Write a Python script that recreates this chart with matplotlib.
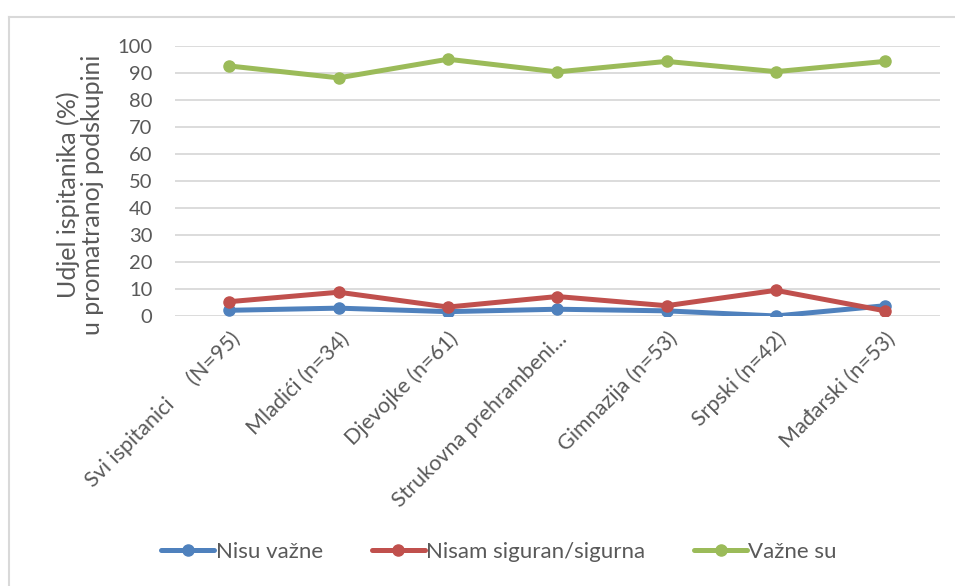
import matplotlib
matplotlib.use("Agg")
import matplotlib.pyplot as plt
from matplotlib.lines import Line2D

plt.rcParams["font.family"] = ["Lato", "DejaVu Sans"]

# =========================
# 数据
# =========================

categories = [
    "Svi ispitanici     (N=95)",
    "Mladići (n=34)",
    "Djevojke (n=61)",
    "Strukovna prehrambeni...",
    "Gimnazija (n=53)",
    "Srpski (n=42)",
    "Mađarski (n=53)",
]

nisu_vazne = [2.1, 2.9, 1.6, 2.5, 1.9, 0.0, 3.8]
nisam_siguran = [5.3, 8.8, 3.3, 7.2, 3.8, 9.5, 1.9]
vazne_su = [92.6, 88.2, 95.1, 90.4, 94.3, 90.5, 94.3]

series_names = ["Nisu važne", "Nisam siguran/sigurna", "Važne su"]
colors = ["#4F81BD", "#C0504D", "#9BBB59"]

text_color = "#595959"
grid_color = "#D9D9D9"

# =========================
# 绘图
# =========================

fig = plt.figure(figsize=(9.55, 5.86), dpi=100)
ax = fig.add_axes([0.183, 0.4608, 0.801, 0.4607])

x = range(len(categories))

for values, name, color in zip([nisu_vazne, nisam_siguran, vazne_su], series_names, colors):
    ax.plot(
        x,
        values,
        color=color,
        linewidth=3.6,
        marker="o",
        markersize=8,
        label=name,
        solid_capstyle="round",
        zorder=3
    )

ax.set_xlim(-0.5, len(categories) - 0.5)
ax.set_ylim(0, 100)
ax.set_yticks(range(0, 101, 10))

ax.grid(axis="y", color=grid_color, linewidth=1.3)
ax.set_axisbelow(True)

for spine in ax.spines.values():
    spine.set_visible(False)

ax.tick_params(axis="both", length=0, colors=text_color)
ax.tick_params(axis="y", labelsize=14.5, pad=16)

ax.set_xticks(list(x))
ax.set_xticklabels(
    categories,
    rotation=45,
    ha="right",
    va="top",
    rotation_mode="anchor",
    fontsize=15.5
)
ax.tick_params(axis="x", pad=9)

ax.set_ylabel(
    "Udjel ispitanika (%)\nu promatranoj podskupini",
    fontsize=18,
    color=text_color,
    linespacing=1.05
)
ax.yaxis.set_label_coords(-0.092, 0.45)

ax.legend(
    loc="center",
    bbox_to_anchor=(0.5225, 0.058),
    bbox_transform=fig.transFigure,
    ncol=3,
    frameon=False,
    fontsize=16,
    labelcolor=text_color,
    handlelength=2.4,
    handletextpad=0.05,
    columnspacing=2.2
)

# 外框（只有左边和上边可见）
fig.add_artist(Line2D([9 / 955, 9 / 955], [0, 1 - 17 / 586], transform=fig.transFigure,
                      color=grid_color, linewidth=1.5))
fig.add_artist(Line2D([9 / 955, 1], [1 - 17 / 586, 1 - 17 / 586], transform=fig.transFigure,
                      color=grid_color, linewidth=1.5))

fig.savefig("out.png", dpi=100)
plt.close(fig)
